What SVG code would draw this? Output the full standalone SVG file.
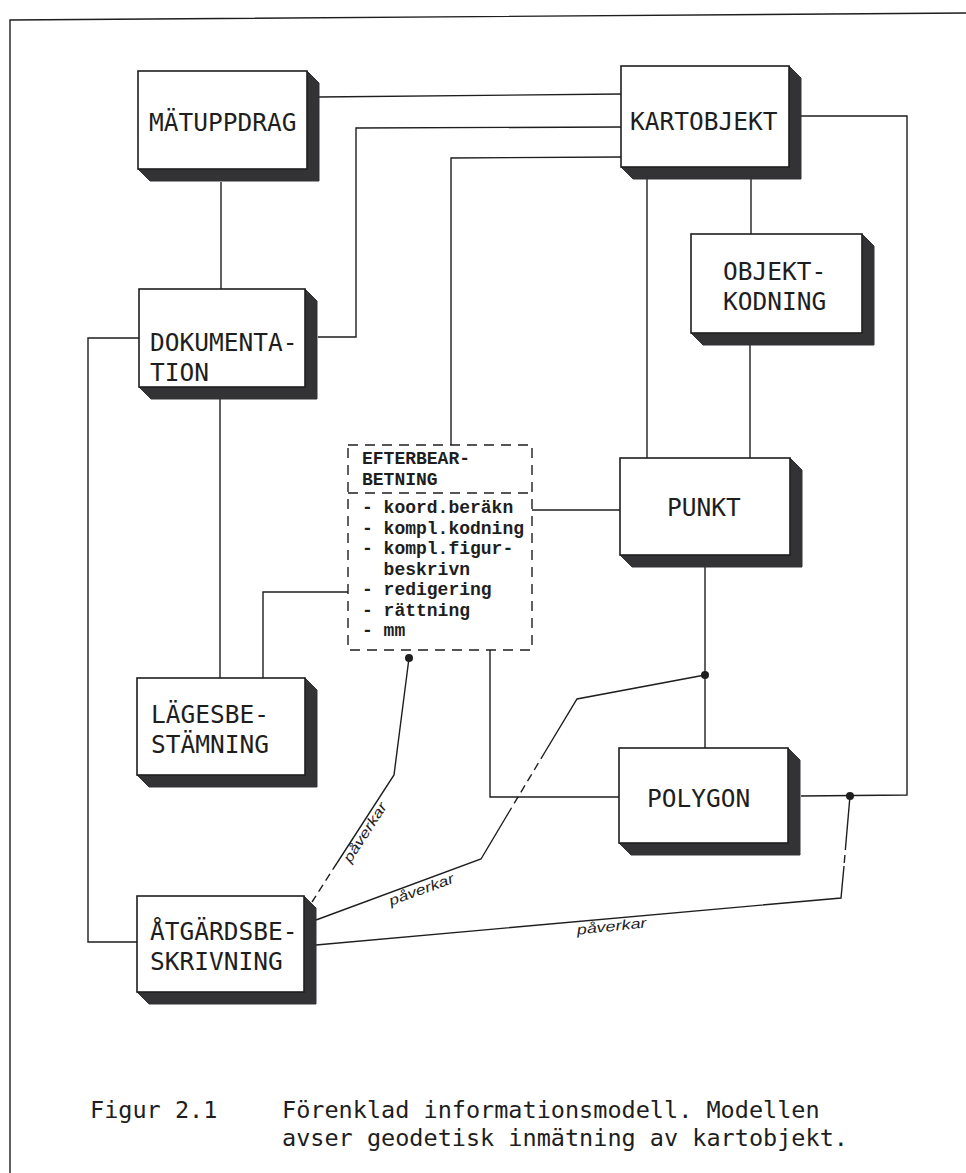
<svg xmlns="http://www.w3.org/2000/svg" width="966" height="1173" viewBox="0 0 966 1173">
<style>
  .front{fill:#fff;stroke:#1e1e1e;stroke-width:1.6}
  .shadow{fill:#333336;stroke:#333336;stroke-width:1}
  .lbl{font-family:"DejaVu Sans Mono","Liberation Mono",monospace;font-size:24.5px;fill:#1e1e1e}
  .cap{font-family:"DejaVu Sans Mono","Liberation Mono",monospace;font-size:23.5px;fill:#1e1e1e}
  .tw{font-family:"Liberation Mono","Courier New",monospace;font-size:18px;font-weight:bold;fill:#1e1e1e}
  .ln{fill:none;stroke:#1e1e1e;stroke-width:1.4}
  .dash{fill:none;stroke:#1e1e1e;stroke-width:1.4;stroke-dasharray:8 5}
  .pv{font-family:"Liberation Sans",sans-serif;font-style:italic;font-size:14px;fill:#1e1e1e}
  .dot{fill:#1e1e1e}
</style>

<!-- frame -->
<path class="ln" d="M10,1173 L10,20 L966,13"/>

<g id="connectors">
  <path class="ln" d="M319,97 L621,94"/>
  <path class="ln" d="M221,182 L221,289"/>
  <path class="ln" d="M621,127 L356,128 L356,337 L318,337"/>
  <path class="ln" d="M621,157 L451,158 L451,445"/>
  <path class="ln" d="M801,116 L907,116 L907,795 L801,796"/>
  <path class="ln" d="M647,177 L647,458"/>
  <path class="ln" d="M751,177 L751,234"/>
  <path class="ln" d="M750,345 L750,458"/>
  <path class="ln" d="M532,510 L620,510"/>
  <path class="ln" d="M705,567 L705,748"/>
  <path class="ln" d="M220,398 L220,678"/>
  <path class="ln" d="M348,592 L263,592 L263,678"/>
  <path class="ln" d="M139,338 L88,338 L88,942 L137,942"/>
  <path class="ln" d="M490,650 L490,797 L619,797"/>
  <!-- påverkar 1 -->
  <path class="ln" d="M409,658 L394,775 L337,863"/>
  <path class="dash" d="M337,863 L312,902"/>
  <!-- påverkar 2 -->
  <path class="ln" d="M705,675 L577,699 L545,752"/>
  <path class="dash" d="M545,752 L509,812"/>
  <path class="ln" d="M509,812 L481,859 L316,920"/>
  <!-- påverkar 3 -->
  <path class="ln" d="M850,796 L846,842"/>
  <path class="dash" d="M846,842 L844,866"/>
  <path class="ln" d="M844,866 L841,898 L316,945"/>
  <circle class="dot" cx="409" cy="658" r="4"/>
  <circle class="dot" cx="705" cy="675" r="4"/>
  <circle class="dot" cx="850" cy="796" r="4"/>
  <text class="pv" text-anchor="middle" textLength="68" lengthAdjust="spacingAndGlyphs" transform="translate(369,835) rotate(-57)">påverkar</text>
  <text class="pv" text-anchor="middle" textLength="68" lengthAdjust="spacingAndGlyphs" transform="translate(423,894) rotate(-20)">påverkar</text>
  <text class="pv" text-anchor="middle" textLength="70" lengthAdjust="spacingAndGlyphs" transform="translate(612,931) rotate(-6)">påverkar</text>
</g>

<g id="matuppdrag">
  <polygon class="shadow" points="307,71 319,83 319,181 150,181 138,169 307,169"/>
  <rect class="front" x="138" y="71" width="169" height="98"/>
  <text class="lbl" transform="translate(149,131) scale(1,1.04)">MÄTUPPDRAG</text>
</g>

<g id="kartobjekt">
  <polygon class="shadow" points="789,66 801,78 801,179 633,179 621,167 789,167"/>
  <rect class="front" x="621" y="66" width="168" height="101"/>
  <text class="lbl" transform="translate(630,130) scale(1,1.04)">KARTOBJEKT</text>
</g>

<g id="objektkodning">
  <polygon class="shadow" points="862,234 874,246 874,345 703,345 691,333 862,333"/>
  <rect class="front" x="691" y="234" width="171" height="99"/>
  <text class="lbl" transform="translate(723,280) scale(1,1.04)">OBJEKT-</text>
  <text class="lbl" transform="translate(723,310) scale(1,1.04)">KODNING</text>
</g>

<g id="dokumentation">
  <polygon class="shadow" points="305,289 317,301 317,399 151,399 139,387 305,387"/>
  <rect class="front" x="139" y="289" width="166" height="98"/>
  <text class="lbl" transform="translate(150,351) scale(1,1.04)">DOKUMENTA-</text>
  <text class="lbl" transform="translate(150,381) scale(1,1.04)">TION</text>
</g>

<g id="efterbearbetning">
  <rect x="348" y="445" width="184" height="205" fill="#fff" stroke="#1e1e1e" stroke-width="1.4" stroke-dasharray="10 7"/>
  <path class="ln" d="M348,493 L532,493" stroke-dasharray="10 7"/>
  <text class="tw" x="362" y="464">EFTERBEAR-</text>
  <text class="tw" x="362" y="485">BETNING</text>
  <text class="tw" x="362" y="513">- koord.beräkn</text>
  <text class="tw" x="362" y="533.5">- kompl.kodning</text>
  <text class="tw" x="362" y="554">- kompl.figur-</text>
  <text class="tw" x="383.6" y="574.5">beskrivn</text>
  <text class="tw" x="362" y="595">- redigering</text>
  <text class="tw" x="362" y="615.5">- rättning</text>
  <text class="tw" x="362" y="636">- mm</text>
</g>

<g id="punkt">
  <polygon class="shadow" points="790,458 802,470 802,567 632,567 620,555 790,555"/>
  <rect class="front" x="620" y="458" width="170" height="97"/>
  <text class="lbl" transform="translate(667,516) scale(1,1.04)">PUNKT</text>
</g>

<g id="lagesbestamning">
  <polygon class="shadow" points="305,678 317,690 317,787 149,787 137,775 305,775"/>
  <rect class="front" x="137" y="678" width="168" height="97"/>
  <text class="lbl" transform="translate(151,723) scale(1,1.04)">LÄGESBE-</text>
  <text class="lbl" transform="translate(151,753) scale(1,1.04)">STÄMNING</text>
</g>

<g id="polygon">
  <polygon class="shadow" points="788,748 800,760 800,855 631,855 619,843 788,843"/>
  <rect class="front" x="619" y="748" width="169" height="95"/>
  <text class="lbl" transform="translate(647,807) scale(1,1.04)">POLYGON</text>
</g>

<g id="atgardsbeskrivning">
  <polygon class="shadow" points="304,896 316,908 316,1004 149,1004 137,992 304,992"/>
  <rect class="front" x="137" y="896" width="167" height="96"/>
  <text class="lbl" transform="translate(150,940) scale(1,1.04)">ÅTGÄRDSBE-</text>
  <text class="lbl" transform="translate(150,970) scale(1,1.04)">SKRIVNING</text>
</g>

<g id="caption">
  <text class="cap" x="90" y="1118">Figur 2.1</text>
  <text class="cap" x="282" y="1118">Förenklad informationsmodell. Modellen</text>
  <text class="cap" x="282" y="1146">avser geodetisk inmätning av kartobjekt.</text>
</g>
</svg>
